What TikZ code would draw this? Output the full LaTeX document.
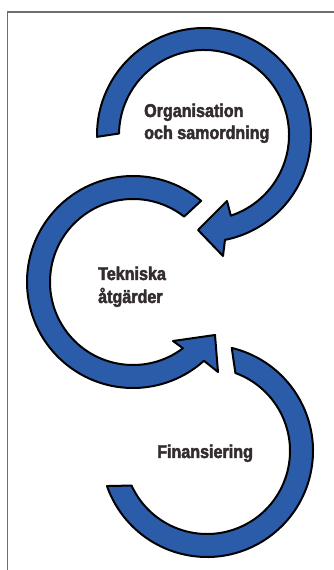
\documentclass[tikz,border=0pt]{standalone}
\usepackage{fontspec}
\newfontfamily\lblfont[FakeStretch=0.87,FakeBold=2.5]{Liberation Sans}
\usetikzlibrary{calc}
\definecolor{bandblue}{RGB}{43,92,170}
\definecolor{txtcol}{RGB}{52,45,48}
\definecolor{framecol}{RGB}{110,110,110}
\tikzset{
  band/.style={fill=bandblue, draw=black, line width=2pt, line join=round},
  lbl/.style={anchor=base west, inner sep=0pt, text=txtcol, font=\lblfont\bfseries\fontsize{18.5}{20}\selectfont},
  framestyle/.style={draw=framecol, line width=1.5pt}
}
\begin{document}
\begin{tikzpicture}[x=1pt,y=1pt]
\useasboundingbox (0,0) rectangle (334,570);
\fill[white] (0,0) rectangle (334,570);
% frame
\coordinate (fa) at (7.5,0);
\coordinate (fb) at (7.5,558);
\coordinate (fc) at (334,558);
\draw[framestyle] (fa) -- (fb) -- (fc);
% centres
\coordinate (T) at (204,435);
\coordinate (M) at (133,288);
\coordinate (B) at (207,119);
% top arc (clockwise, arrow at bottom)
\draw[band] ($(T)+(181:107)$) arc[start angle=181, end angle=-78.7, radius=107]
  -- ($(T)+(19,-121)$) -- ($(T)+(-6,-95)$) -- ($(T)+(23,-66)$)
  -- ($(T)+(-71.6:85)$) arc[start angle=-71.6, end angle=179, radius=85] -- cycle;
% middle arc (counter-clockwise, arrow at lower right)
\draw[band] ($(M)+(50:106)$) arc[start angle=50, end angle=312, radius=106]
  -- ($(M)+(85,-90)$) -- ($(M)+(82,-53)$) -- ($(M)+(40,-59)$)
  -- ($(M)+(307:83)$) arc[start angle=307, end angle=52, radius=83] -- cycle;
% bottom arc
\draw[band] ($(B)+(76.5:106)$) arc[start angle=76.5, end angle=-160.7, radius=106]
  -- ($(B)+(-155.4:83)$) arc[start angle=-155.4, end angle=70, radius=83] -- cycle;
% labels
\node[lbl] (org1) at (144,453) {Organisation};
\node[lbl] (org2) at (144,431) {och samordning};
\node[lbl] (tek1) at (98,290) {Tekniska};
\node[lbl] (tek2) at (98,267) {åtgärder};
\node[lbl] (fin) at (157,112) {Finansiering};
\end{tikzpicture}
\end{document}
